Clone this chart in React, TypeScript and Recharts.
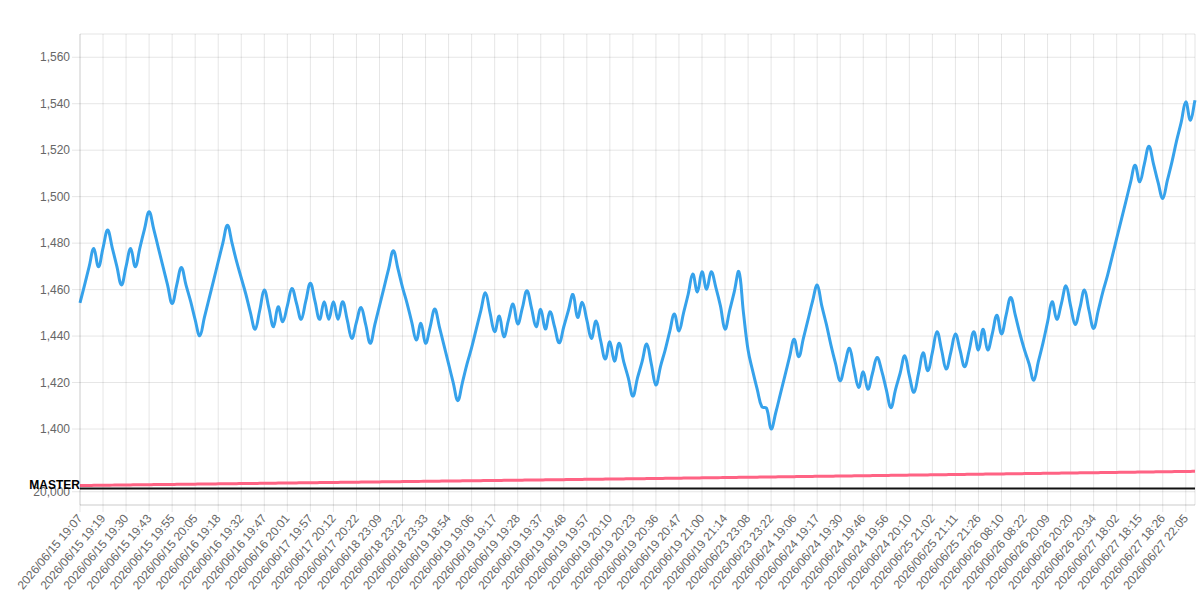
import React from "react";
import {
  ComposedChart,
  Line,
  XAxis,
  YAxis,
  CartesianGrid,
  ReferenceLine,
} from "recharts";

// one point every few minutes, only every 5th point gets a visible label
const tickLabels = [
  "2026/06/15 19:07", "2026/06/15 19:19", "2026/06/15 19:30", "2026/06/15 19:43",
  "2026/06/15 19:55", "2026/06/15 20:05", "2026/06/16 19:18", "2026/06/16 19:32",
  "2026/06/16 19:47", "2026/06/16 20:01", "2026/06/17 19:57", "2026/06/17 20:12",
  "2026/06/17 20:22", "2026/06/18 23:09", "2026/06/18 23:22", "2026/06/18 23:33",
  "2026/06/19 18:54", "2026/06/19 19:06", "2026/06/19 19:17", "2026/06/19 19:28",
  "2026/06/19 19:37", "2026/06/19 19:48", "2026/06/19 19:57", "2026/06/19 20:10",
  "2026/06/19 20:23", "2026/06/19 20:36", "2026/06/19 20:47", "2026/06/19 21:00",
  "2026/06/19 21:14", "2026/06/23 23:08", "2026/06/23 23:22", "2026/06/24 19:06",
  "2026/06/24 19:17", "2026/06/24 19:30", "2026/06/24 19:46", "2026/06/24 19:56",
  "2026/06/24 20:10", "2026/06/25 21:02", "2026/06/25 21:11", "2026/06/25 21:26",
  "2026/06/26 08:10", "2026/06/26 08:22", "2026/06/26 20:09", "2026/06/26 20:20",
  "2026/06/26 20:34", "2026/06/27 18:02", "2026/06/27 18:15", "2026/06/27 18:26",
  "2026/06/27 22:05",
];
const labelEvery = 5;

const upperValues = [
  1454.3, 1462, 1470, 1477.7, 1469.8, 1478, 1485.6, 1478, 1470, 1462,
  1470, 1477.7, 1469.8, 1478, 1486, 1493.5, 1486, 1478, 1470, 1462,
  1454, 1462, 1469.5, 1462, 1455, 1447, 1440.1, 1448, 1456, 1464,
  1472, 1480, 1487.7, 1480, 1472, 1465, 1458, 1450, 1442.9, 1451,
  1459.8, 1452, 1444, 1452.6, 1446.2, 1453, 1460.5, 1454, 1447.2, 1455,
  1462.7, 1455, 1447.2, 1454.8, 1447.2, 1454.8, 1447.2, 1454.8, 1447, 1439,
  1446, 1452.3, 1445, 1436.9, 1445, 1453, 1461, 1469, 1476.7, 1469,
  1461, 1454, 1446, 1438.3, 1445.5, 1436.9, 1444, 1451.6, 1444, 1436,
  1428, 1420, 1412.2, 1420, 1428, 1435, 1443, 1451, 1458.6, 1450,
  1441.9, 1448.6, 1439.7, 1447, 1453.8, 1445.2, 1452, 1459.5, 1452, 1444,
  1451.5, 1443, 1450.5, 1444, 1437.1, 1444, 1451, 1457.9, 1448, 1454.5,
  1447, 1439, 1446.5, 1438, 1430.1, 1437.5, 1429.2, 1436.9, 1429, 1422,
  1414.2, 1422, 1429, 1436.6, 1428, 1418.9, 1427, 1434, 1442, 1449.5,
  1442.2, 1450, 1458, 1466.7, 1459, 1467.7, 1460.1, 1467.7, 1461, 1453,
  1443, 1451, 1459, 1467.7, 1450, 1434, 1425, 1417, 1409.5, 1409,
  1400, 1407, 1415, 1423, 1431, 1438.6, 1431.1, 1439, 1447, 1455,
  1461.9, 1453, 1445, 1436, 1428, 1420.8, 1428, 1434.7, 1426, 1417.9,
  1424.6, 1417.1, 1424, 1430.8, 1425, 1417, 1409.2, 1417, 1424, 1431.5,
  1423, 1415.8, 1424, 1432.8, 1425.1, 1433, 1441.9, 1434, 1425.8, 1433,
  1440.9, 1434, 1426.8, 1434, 1441.9, 1434, 1442.9, 1434, 1441, 1449,
  1440.9, 1449, 1456.6, 1449, 1441, 1434, 1428, 1421, 1429, 1437,
  1446, 1454.8, 1447.2, 1454, 1461.6, 1453, 1445, 1452, 1459.8, 1451,
  1443.3, 1451, 1459, 1466, 1474, 1482, 1490, 1498, 1506, 1513.5,
  1506.4, 1514, 1521.7, 1514, 1506, 1499.2, 1507, 1515, 1524, 1532,
  1540.8, 1532.9, 1541.5,
];

const lowerValues = [
  20470, 20474, 20478, 20483, 20487, 20491, 20495, 20500, 20504, 20508,
  20512, 20517, 20521, 20525, 20529, 20534, 20538, 20541, 20545, 20549,
  20554, 20558, 20562, 20566, 20571, 20575, 20579, 20583, 20588, 20592,
  20596, 20600, 20605, 20609, 20613, 20617, 20622, 20626, 20630, 20634,
  20639, 20643, 20647, 20651, 20656, 20660, 20664, 20668, 20673, 20677,
  20681, 20685, 20690, 20694, 20698, 20702, 20707, 20711, 20715, 20719,
  20724, 20728, 20732, 20736, 20741, 20745, 20749, 20753, 20758, 20762,
  20766, 20770, 20775, 20779, 20783, 20787, 20792, 20796, 20800, 20804,
  20809, 20813, 20817, 20821, 20826, 20830, 20834, 20838, 20843, 20847,
  20851, 20855, 20860, 20864, 20868, 20872, 20877, 20881, 20885, 20889,
  20894, 20898, 20902, 20906, 20911, 20915, 20919, 20923, 20928, 20932,
  20936, 20940, 20945, 20949, 20953, 20957, 20962, 20966, 20970, 20974,
  20979, 20983, 20988, 20992, 20997, 21002, 21006, 21011, 21015, 21020,
  21025, 21029, 21034, 21039, 21043, 21048, 21052, 21057, 21062, 21066,
  21071, 21075, 21080, 21085, 21089, 21094, 21098, 21103, 21108, 21112,
  21117, 21121, 21126, 21131, 21135, 21140, 21144, 21149, 21154, 21158,
  21163, 21167, 21172, 21177, 21181, 21186, 21190, 21195, 21200, 21204,
  21209, 21213, 21218, 21223, 21227, 21232, 21236, 21241, 21246, 21250,
  21255, 21259, 21264, 21269, 21273, 21278, 21282, 21287, 21292, 21296,
  21301, 21305, 21310, 21315, 21319, 21324, 21328, 21333, 21338, 21342,
  21347, 21351, 21356, 21361, 21365, 21370, 21374, 21379, 21384, 21388,
  21393, 21397, 21402, 21407, 21411, 21416, 21420, 21425, 21430, 21434,
  21439, 21443, 21448, 21453, 21457, 21462, 21466, 21471, 21476, 21480,
  21485, 21489, 21494, 21499, 21503, 21508, 21512, 21517, 21522, 21526,
  21531, 21536, 21540,
];

const upperTicks = [1400, 1420, 1440, 1460, 1480, 1500, 1520, 1540, 1560];
const lowerTick = 20000;
const masterValue = 20250;

const data = upperValues.map((v, i) => ({ i, upper: v, lower: lowerValues[i] }));
const xTicks = tickLabels.map((_, k) => k * labelEvery);

const FONT = "'Liberation Sans', Arial, Helvetica, sans-serif";
const GRID = "rgba(0,0,0,0.1)";

// the two stacked scales share one plot: upper band 1390..1570, lower band thin strip at the bottom
const upperDomain = [1367.3, 1570];
const lowerDomain = [19000, 54547];

// chart.js style bezier (tension 0.4)
function tensionCurve(context: any) {
  let xs: number[] = [];
  let ys: number[] = [];
  return {
    areaStart() {},
    areaEnd() {},
    lineStart() {
      xs = [];
      ys = [];
    },
    point(x: number, y: number) {
      xs.push(+x);
      ys.push(+y);
    },
    lineEnd() {
      const n = xs.length;
      if (!n) return;
      context.moveTo(xs[0], ys[0]);
      const t = 0.4;
      const cin: number[][] = [];
      const cout: number[][] = [];
      for (let i = 0; i < n; i++) {
        const p = i > 0 ? i - 1 : i;
        const q = i < n - 1 ? i + 1 : i;
        const d01 = Math.hypot(xs[i] - xs[p], ys[i] - ys[p]);
        const d12 = Math.hypot(xs[q] - xs[i], ys[q] - ys[i]);
        let s01 = d01 / (d01 + d12);
        let s12 = d12 / (d01 + d12);
        if (isNaN(s01)) s01 = 0;
        if (isNaN(s12)) s12 = 0;
        const fa = t * s01;
        const fb = t * s12;
        cin.push([xs[i] - fa * (xs[q] - xs[p]), ys[i] - fa * (ys[q] - ys[p])]);
        cout.push([xs[i] + fb * (xs[q] - xs[p]), ys[i] + fb * (ys[q] - ys[p])]);
      }
      for (let i = 1; i < n; i++) {
        context.bezierCurveTo(cout[i - 1][0], cout[i - 1][1], cin[i][0], cin[i][1], xs[i], ys[i]);
      }
    },
  };
}

const XTick = (props: any) => {
  const { x, y, payload } = props;
  const label = tickLabels[Math.round(payload.value / labelEvery)] ?? "";
  const ty = y + 2;
  return (
    <text
      x={x}
      y={ty}
      transform={`rotate(-50 ${x} ${ty})`}
      textAnchor="end"
      dominantBaseline="central"
      fontSize={12}
      fontFamily={FONT}
      fill="#666"
    >
      {label}
    </text>
  );
};

const LowerTickLabel = (props: any) => {
  const { x, y } = props.viewBox;
  return (
    <g>
      <line x1={x - 8} x2={x} y1={y} y2={y} stroke={GRID} />
      <text x={x - 10} y={y} dy="0.355em" textAnchor="end" fontSize={12} fontFamily={FONT} fill="#666">
        {lowerTick.toLocaleString("en-US")}
      </text>
    </g>
  );
};

const MasterLabel = (props: any) => {
  const { x, y } = props.viewBox;
  return (
    <text x={x} y={y + 1} textAnchor="end" fontSize={12} fontWeight="bold" fontFamily={FONT} fill="#000">
      MASTER
    </text>
  );
};

export default function App() {
  return (
    <div style={{ position: "absolute", left: 0, top: 0, background: "#fff" }}>
      <ComposedChart width={1200} height={600} data={data} margin={{ top: 34, right: 5, bottom: 0, left: 0 }}>
        <CartesianGrid stroke={GRID} yAxisId="upper" />
        <XAxis
          type="number"
          dataKey="i"
          domain={[0, upperValues.length - 1]}
          ticks={xTicks}
          interval={0}
          height={95}
          tickSize={7}
          tickLine={{ stroke: GRID }}
          axisLine={{ stroke: GRID }}
          tick={<XTick />}
        />
        <YAxis
          yAxisId="upper"
          domain={upperDomain}
          allowDataOverflow
          ticks={upperTicks}
          interval={0}
          width={80}
          tickSize={8}
          tickLine={{ stroke: GRID }}
          axisLine={{ stroke: GRID }}
          tick={{ fontSize: 12, fill: "#666", fontFamily: FONT }}
          tickFormatter={(v: number) => v.toLocaleString("en-US")}
        />
        <YAxis yAxisId="lower" orientation="right" width={0} hide domain={lowerDomain} allowDataOverflow />
        <ReferenceLine yAxisId="lower" y={lowerTick} stroke={GRID} label={<LowerTickLabel />} />
        <Line
          yAxisId="lower"
          dataKey="lower"
          type={tensionCurve as any}
          stroke="#ff6384"
          strokeWidth={3}
          dot={false}
          activeDot={false}
          isAnimationActive={false}
        />
        <ReferenceLine yAxisId="lower" y={masterValue} stroke="#111" strokeWidth={2} label={<MasterLabel />} />
        <Line
          yAxisId="upper"
          dataKey="upper"
          type={tensionCurve as any}
          stroke="#36a2eb"
          strokeWidth={3}
          dot={false}
          activeDot={false}
          isAnimationActive={false}
        />
      </ComposedChart>
    </div>
  );
}
